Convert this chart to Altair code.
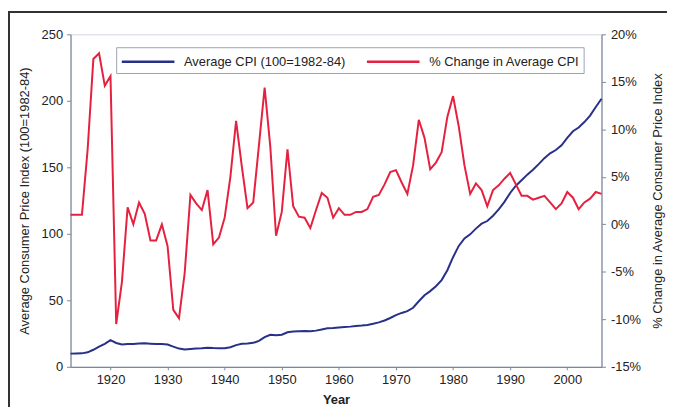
import altair as alt
import pandas as pd

years = list(range(1913, 2007))

cpi = [9.9, 10.0, 10.1, 10.9, 12.8, 15.1, 17.3, 20.0, 17.9, 16.8,
       17.1, 17.1, 17.5, 17.7, 17.4, 17.1, 17.1, 16.7, 15.2, 13.7,
       13.0, 13.4, 13.7, 13.9, 14.4, 14.1, 13.9, 14.0, 14.7, 16.3,
       17.3, 17.6, 18.0, 19.5, 22.3, 24.1, 23.8, 24.1, 26.0, 26.5,
       26.7, 26.9, 26.8, 27.2, 28.1, 28.9, 29.1, 29.6, 29.9, 30.2,
       30.6, 31.0, 31.5, 32.4, 33.4, 34.8, 36.7, 38.8, 40.5, 41.8,
       44.4, 49.3, 53.8, 56.9, 60.6, 65.2, 72.6, 82.4, 90.9, 96.5,
       99.6, 103.9, 107.6, 109.6, 113.6, 118.3, 124.0, 130.7, 136.2, 140.3,
       144.5, 148.2, 152.4, 156.9, 160.5, 163.0, 166.6, 172.2, 177.1, 179.9,
       184.0, 188.9, 195.3, 201.6]

pct_change = [1.0, 1.0, 1.0, 7.9, 17.4, 18.0, 14.6, 15.6, -10.5, -6.1,
              1.8, 0.0, 2.3, 1.1, -1.7, -1.7, 0.0, -2.3, -9.0, -9.9,
              -5.1, 3.1, 2.2, 1.5, 3.6, -2.1, -1.4, 0.7, 5.0, 10.9,
              6.1, 1.7, 2.3, 8.3, 14.4, 8.1, -1.2, 1.3, 7.9, 1.9,
              0.8, 0.7, -0.4, 1.5, 3.3, 2.8, 0.7, 1.7, 1.0, 1.0,
              1.3, 1.3, 1.6, 2.9, 3.1, 4.2, 5.5, 5.7, 4.4, 3.2,
              6.2, 11.0, 9.1, 5.8, 6.5, 7.6, 11.3, 13.5, 10.3, 6.2,
              3.2, 4.3, 3.6, 1.9, 3.6, 4.1, 4.8, 5.4, 4.2, 3.0,
              3.0, 2.6, 2.8, 3.0, 2.3, 1.6, 2.2, 3.4, 2.8, 1.6,
              2.3, 2.7, 3.4, 3.2]

series_names = ["Average CPI (100=1982-84)", "% Change in Average CPI"]
series_colors = ["#283088", "#e5213f"]
x_ticks = [1920, 1930, 1940, 1950, 1960, 1970, 1980, 1990, 2000]
left_ticks = [0, 50, 100, 150, 200, 250]
right_ticks = [-15, -10, -5, 0, 5, 10, 15, 20]

df = pd.DataFrame({"Year": years, "CPI": cpi, "Pct": pct_change})
cpi_df = pd.DataFrame({"Year": years, "CPI": cpi, "Series": series_names[0]})
pct_df = pd.DataFrame({"Year": years, "Pct": pct_change, "Series": series_names[1]})

FONT = "Liberation Sans"
AXIS_COLOR = "#7d879c"
TEXT = "#222222"

x_enc = alt.X(
    "Year:Q",
    scale=alt.Scale(domain=[1913, 2006], nice=False, zero=False),
    axis=alt.Axis(
        values=x_ticks, format="d", title="Year", titleFontWeight="bold",
        titleX=267.5, titleY=33, titleBaseline="middle",
        tickSize=3, labelPadding=4, grid=False,
    ),
)

# long line symbol: a custom path wider than its nominal box
sym_w = 53 / 3.0
color_scale = alt.Scale(domain=series_names, range=series_colors)
legend = alt.Legend(
    title=None, orient="none", legendX=46, legendY=13,
    direction="horizontal", columns=2, gridAlign="all",
    symbolType="M-3,0H3", symbolSize=sym_w * sym_w, symbolStrokeWidth=2.5,
    symbolOffset=sym_w, labelOffset=53 + 8 - 2 * sym_w, labelLimit=400,
    labelFontSize=13, labelFont=FONT, labelColor=TEXT,
    columnPadding=15, padding=4, strokeColor="#9aa3b5", fillColor="white",
)

cpi_line = alt.Chart(cpi_df).mark_line(strokeWidth=2).encode(
    x=x_enc,
    y=alt.Y(
        "CPI:Q",
        scale=alt.Scale(domain=[0, 250], nice=False),
        axis=alt.Axis(
            values=left_ticks, orient="left", grid=False,
            title="Average Consumer Price Index (100=1982-84)",
            titleX=-46, titleY=167.5, titleAngle=270,
            titleAlign="center", titleBaseline="middle",
            tickSize=4, labelPadding=4,
        ),
    ),
    color=alt.Color("Series:N", scale=color_scale, legend=legend),
)

pct_line = alt.Chart(pct_df).mark_line(strokeWidth=2).encode(
    x=x_enc,
    y=alt.Y(
        "Pct:Q",
        scale=alt.Scale(domain=[-15, 20], nice=False, zero=False),
        axis=alt.Axis(
            values=right_ticks, orient="right", grid=False,
            labelExpr="datum.value + '%'",
            title="% Change in Average Consumer Price Index",
            titleX=56, titleY=167.5, titleAngle=270,
            titleAlign="center", titleBaseline="middle",
            tickSize=4, labelPadding=5,
        ),
    ),
    color=alt.Color("Series:N", scale=color_scale, legend=legend),
)

frame_left = alt.Chart(df).mark_rule(color="#333333", strokeWidth=1.5).encode(
    x=alt.value(-62.5), y=alt.value(-22.5), y2=alt.value(375)
)
frame_top = alt.Chart(df).mark_rule(color="#333333", strokeWidth=1.5).encode(
    x=alt.value(-62.5), x2=alt.value(601), y=alt.value(-22.5)
)

chart = (
    alt.layer(cpi_line, pct_line, frame_left, frame_top)
    .resolve_scale(y="independent")
    .properties(
        width=535, height=335,
        background="white",
        autosize=alt.AutoSizeParams(type="none"),
        padding={"left": 63, "top": 25, "right": 66, "bottom": 40},
    )
    .configure_view(stroke="#d3d7df", strokeWidth=1)
    .configure_axis(
        labelFont=FONT, labelFontSize=13, labelColor=TEXT,
        titleFont=FONT, titleFontSize=13, titleColor=TEXT,
        titleFontWeight="normal",
        domainColor=AXIS_COLOR, tickColor=AXIS_COLOR, domainWidth=1.2,
    )
)

chart.save("out.html", embed_options={"renderer": "svg", "actions": False})
